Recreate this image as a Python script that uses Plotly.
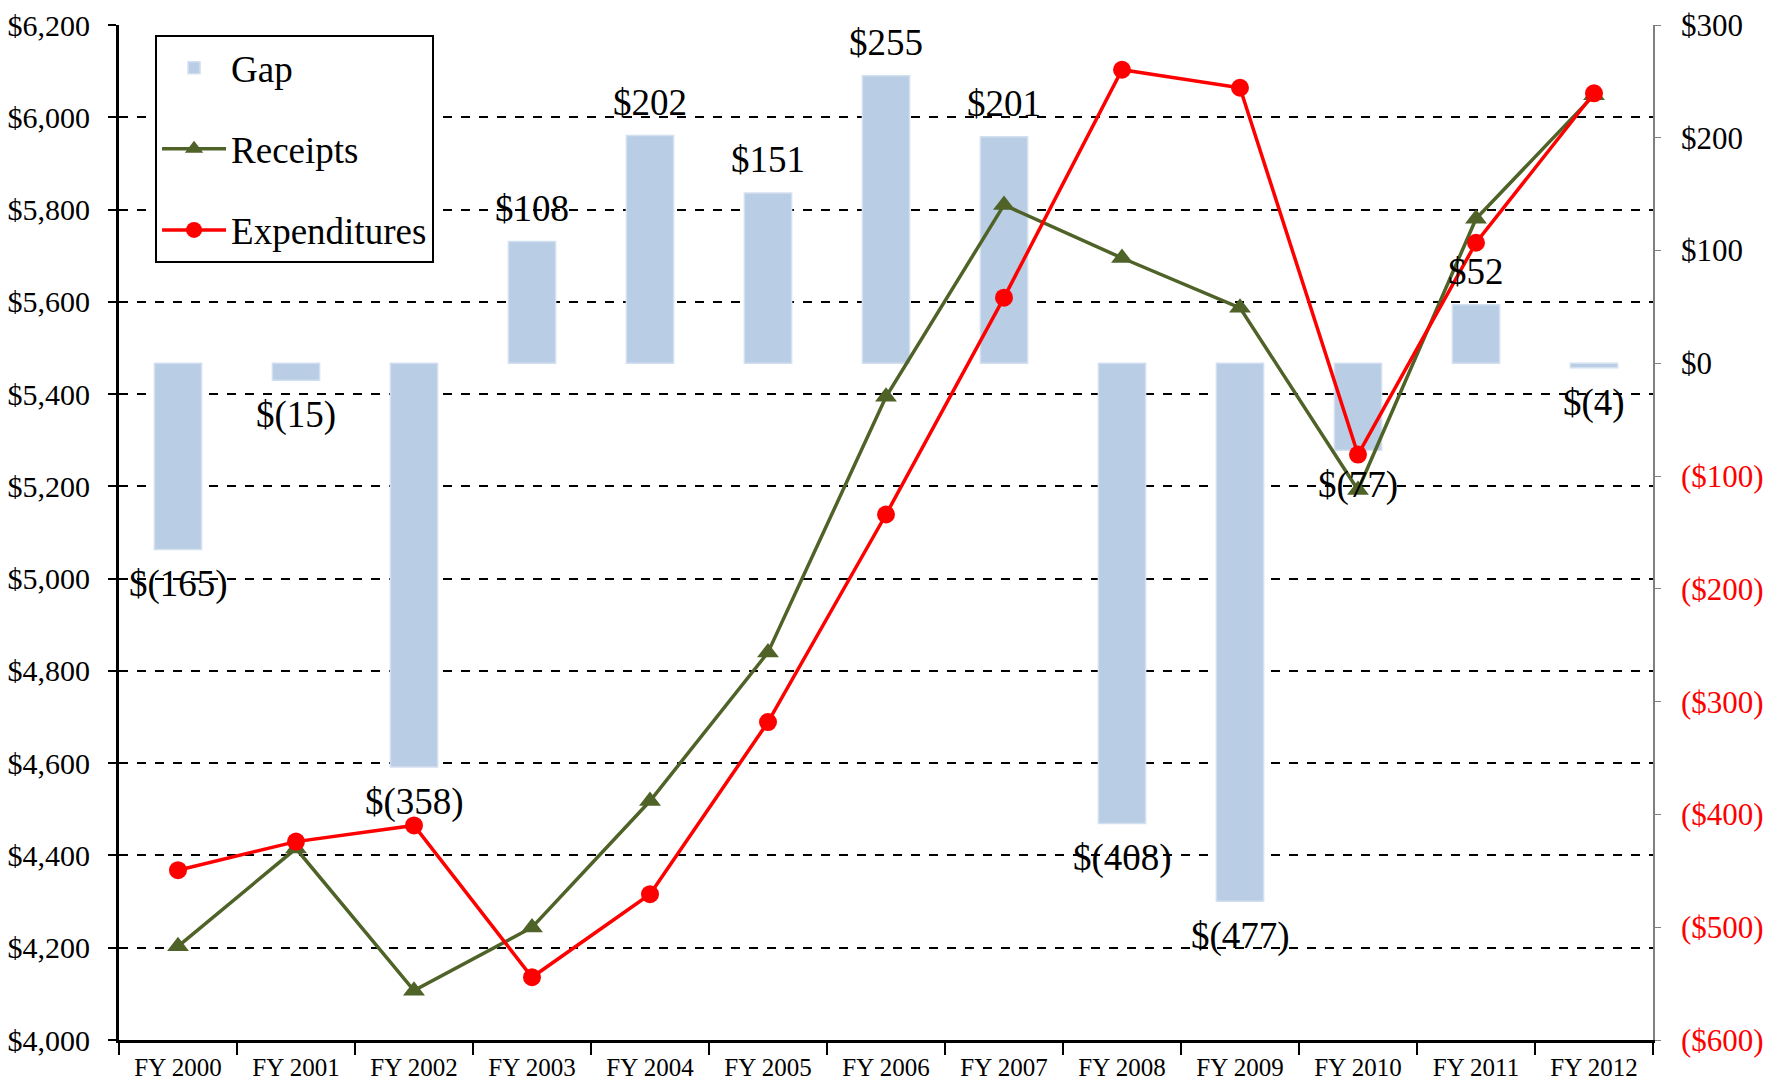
import plotly.graph_objects as go

years = ["FY 2000", "FY 2001", "FY 2002", "FY 2003", "FY 2004", "FY 2005", "FY 2006",
         "FY 2007", "FY 2008", "FY 2009", "FY 2010", "FY 2011", "FY 2012"]
receipts = [4203, 4415, 4107, 4244, 4518, 4840, 5394, 5810, 5695, 5587, 5192, 5780, 6048]
expenditures = [4368, 4430, 4465, 4136, 4316, 4689, 5139, 5609, 6103, 6064, 5269, 5728, 6052]
gap = [-165, -15, -358, 108, 202, 151, 255, 201, -408, -477, -77, 52, -4]

gap_ticks = [-600, -500, -400, -300, -200, -100, 0, 100, 200, 300]
gap_ticktext = ["$%d" % v if v >= 0 else "<span style='color:red'>($%d)</span>" % -v for v in gap_ticks]

FONT = "Liberation Serif, Times New Roman, serif"

fig = go.Figure()

fig.add_trace(go.Bar(
    x=years, y=gap, name="Gap", yaxis="y", width=0.4,
    marker=dict(color="#B9CDE5", line=dict(color="#D3E0EF", width=1.5)),
    legendgroup="g1",
))
fig.add_trace(go.Scatter(
    x=years, y=receipts, name="Receipts", yaxis="y2", mode="lines+markers",
    line=dict(color="#4F6228", width=3.5),
    marker=dict(symbol="triangle-up", size=19, color="#4F6228"),
    legendgroup="g2",
))
fig.add_trace(go.Scatter(
    x=years, y=expenditures, name="Expenditures", yaxis="y2", mode="lines+markers",
    line=dict(color="#FF0000", width=3.5),
    marker=dict(symbol="circle", size=18, color="#FF0000"),
    legendgroup="g3",
))

# data labels for the gap bars
for yr, v in zip(years, gap):
    txt = "$%d" % v if v >= 0 else "$(%d)" % -v
    fig.add_annotation(
        x=yr, y=v, xref="x", yref="y", text=txt, showarrow=False,
        yanchor="bottom" if v >= 0 else "top",
        yshift=11 if v >= 0 else -12,
        font=dict(family=FONT, size=37, color="black"),
    )

# page body adds an 8px offset, so the figure is sized to fit the window
fig.update_layout(
    width=1765, height=1078,
    margin=dict(l=111, r=120, t=17, b=46),
    paper_bgcolor="white", plot_bgcolor="white",
    font=dict(family=FONT, color="black"),
    xaxis=dict(
        type="category", range=[-0.5, 12.5], showline=True, linecolor="black", linewidth=3,
        ticks="outside", tickson="boundaries", ticklen=12, tickwidth=2, tickcolor="black",
        tickfont=dict(size=25), showgrid=False, ticklabelstandoff=3, automargin=False,
    ),
    yaxis=dict(
        side="right", range=[-600, 300], tickvals=gap_ticks, ticktext=gap_ticktext,
        showline=True, linecolor="#808080", linewidth=1.5, showgrid=False, zeroline=False,
        ticks="outside", ticklen=6, tickcolor="#808080", tickfont=dict(size=31),
        ticklabelstandoff=14, automargin=False, ticklabeloverflow="allow",
    ),
    yaxis2=dict(
        side="left", overlaying="y", range=[4000, 6200], dtick=200,
        tickprefix="$", tickformat=",d",
        showline=True, linecolor="black", linewidth=3,
        ticks="outside", ticklen=8, tickwidth=2, tickcolor="black", tickfont=dict(size=30),
        showgrid=True, gridcolor="black", gridwidth=1.5, griddash="dash", zeroline=False,
        ticklabelstandoff=12, automargin=False, ticklabeloverflow="allow",
    ),
    legend=dict(
        x=0.0235, y=0.99, xanchor="left", yanchor="top",
        bgcolor="white", bordercolor="black", borderwidth=2,
        font=dict(size=37), tracegroupgap=30, itemwidth=64,
    ),
    showlegend=True,
)

fig.write_html("out.html")
